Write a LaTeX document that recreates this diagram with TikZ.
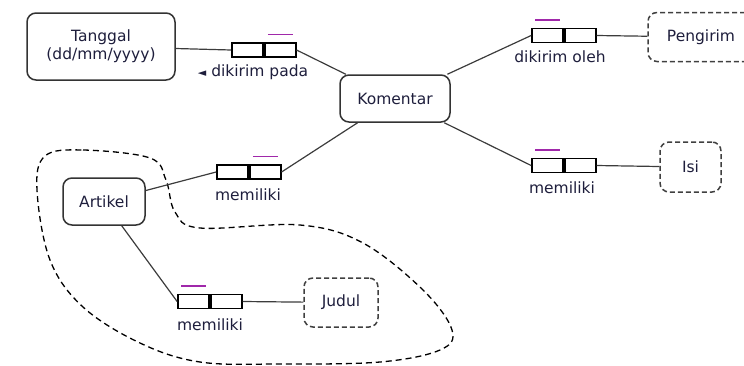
\documentclass[tikz,border=0pt]{standalone}
\usepackage{fontspec}
\setmainfont{DejaVu Sans}
\usetikzlibrary{positioning}
\definecolor{txtcol}{RGB}{30,30,60}
\definecolor{linecol}{RGB}{60,60,60}
\definecolor{barcol}{RGB}{160,40,170}

\begin{document}
\begin{tikzpicture}[x=1pt,y=-1pt,
    font=\fontsize{15.5}{18}\selectfont,text=txtcol,
    entity/.style={draw=black!80,line width=1.5pt,rounded corners=9pt,inner sep=0pt},
    valuebox/.style={draw=black!75,line width=1.5pt,dash pattern=on 5pt off 3pt,rounded corners=9pt,inner sep=0pt},
    cell/.style={draw=black,line width=1.7pt,minimum width=31pt,minimum height=14pt,inner sep=0pt},
    conn/.style={draw=linecol,line width=1.2pt},
    bar/.style={draw=barcol,line width=1.6pt},
    lbl/.style={inner sep=0pt}]
    \useasboundingbox (0,0) rectangle (744,365);
    % grouping around Artikel and Judul
    \draw[black,line width=1.3pt,dash pattern=on 6pt off 4pt] plot[smooth cycle,tension=0.6] coordinates {
        (45,156) (83,150) (150,158) (166,180) (175,212) (200,228) (300,225) (363,243)
        (423,290) (452,330) (440,350) (380,362) (280,364) (200,362) (140,343) (83,307)
        (50,260) (37,190)};

    \node[entity,minimum width=148pt,minimum height=67pt,align=center] (tanggal) at (101,46.5) {Tanggal\\(dd/mm/yyyy)};
    \node[entity,minimum width=110pt,minimum height=47pt] (komentar) at (395,98.5) {Komentar};
    \node[entity,minimum width=82pt,minimum height=47pt] (artikel) at (104,201.5) {Artikel};
    \node[valuebox,minimum width=106pt,minimum height=49pt] (pengirim) at (701,37) {Pengirim};
    \node[valuebox,minimum width=61pt,minimum height=50pt] (isi) at (690.5,167) {Isi};
    \node[valuebox,minimum width=74pt,minimum height=49pt] (judul) at (341,302.5) {Judul};

    % fact types
    \node[cell] (r1a) at (247.5,50) {};
    \node[cell,right=0pt of r1a] (r1b) {};
    \node[cell] (r2a) at (547.5,35.5) {};
    \node[cell,right=0pt of r2a] (r2b) {};
    \node[cell] (r3a) at (547.5,165.5) {};
    \node[cell,right=0pt of r3a] (r3b) {};
    \node[cell] (r4a) at (232.5,172) {};
    \node[cell,right=0pt of r4a] (r4b) {};
    \node[cell] (r5a) at (193.5,301.5) {};
    \node[cell,right=0pt of r5a] (r5b) {};

    \draw[bar] ([xshift=4pt,yshift=7.5pt]r1b.north west) -- ([xshift=-4pt,yshift=7.5pt]r1b.north east);
    \draw[bar] ([xshift=4pt,yshift=7.5pt]r2a.north west) -- ([xshift=-4pt,yshift=7.5pt]r2a.north east);
    \draw[bar] ([xshift=4pt,yshift=7.5pt]r3a.north west) -- ([xshift=-4pt,yshift=7.5pt]r3a.north east);
    \draw[bar] ([xshift=4pt,yshift=7.5pt]r4b.north west) -- ([xshift=-4pt,yshift=7.5pt]r4b.north east);
    \draw[bar] ([xshift=4pt,yshift=7.5pt]r5a.north west) -- ([xshift=-4pt,yshift=7.5pt]r5a.north east);

    \node[lbl] (l1) at (253,72) {{\fontsize{11}{11}\selectfont ◄} dikirim pada};
    \node[lbl] (l2) at (560,57) {dikirim oleh};
    \node[lbl] (l3) at (562,188) {memiliki};
    \node[lbl] (l4) at (248,195) {memiliki};
    \node[lbl] (l5) at (210,325) {memiliki};

    \draw[conn] (tanggal) -- (r1a.west);
    \draw[conn] (r1b.east) -- (komentar);
    \draw[conn] (komentar) -- (r2a.west);
    \draw[conn] (r2b.east) -- (pengirim);
    \draw[conn] (komentar) -- (r3a.west);
    \draw[conn] (r3b.east) -- (isi);
    \draw[conn] (artikel) -- (r4a.west);
    \draw[conn] (r4b.east) -- (komentar);
    \draw[conn] (artikel) -- (r5a.west);
    \draw[conn] (r5b.east) -- (judul);
\end{tikzpicture}
\end{document}
